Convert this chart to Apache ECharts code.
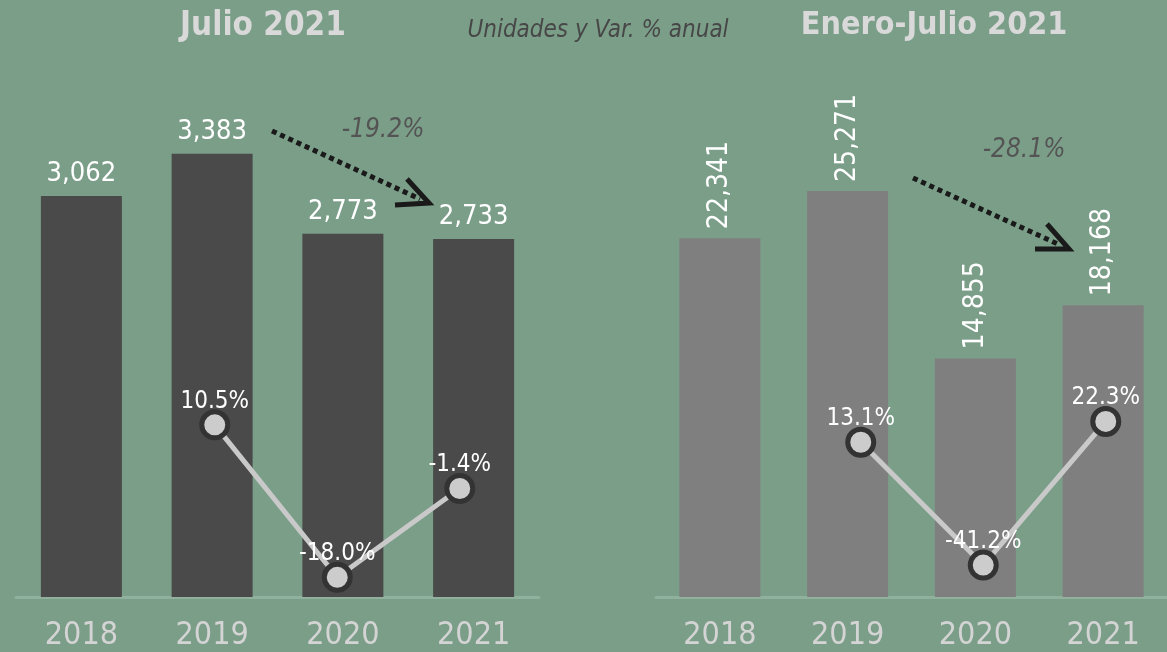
<!DOCTYPE html>
<html>
<head>
<meta charset="utf-8">
<script src="https://cdn.jsdelivr.net/npm/echarts@6/dist/echarts.min.js"></script>
<style>
  html, body { margin: 0; padding: 0; background: #7b9e89; }
  #main { width: 1167px; height: 652px; }
</style>
</head>
<body>
<div id="main"></div>
<script>
var years = ['2018', '2019', '2020', '2021'];
var julioUnits = [3062, 3383, 2773, 2733];
var julioVar = [null, 10.5, -18.0, -1.4];
var eneroJulioUnits = [22341, 25271, 14855, 18168];
var eneroJulioVar = [null, 13.1, -41.2, 22.3];

var FONT = "'Liberation Sans Narrow', 'DejaVu Sans Condensed', sans-serif";
var BG = '#7b9e89';

function fmt(v) { return v.toLocaleString('en-US'); }

var myChart = echarts.init(document.getElementById('main'));

function catAxis(grid, show) {
    return {
        type: 'category', gridIndex: grid, data: years,
        show: show,
        axisLine: { show: true, lineStyle: { color: '#8fb19d', width: 3 } },
        axisTick: { show: false },
        axisLabel: { color: '#d4d4d4', fontSize: 32, fontFamily: FONT, margin: 23 }
    };
}
function valAxis(grid, min, max) {
    return { type: 'value', gridIndex: grid, min: min, max: max, show: false, splitLine: { show: false } };
}
function lineSeries(xi, data) {
    return {
        type: 'line', xAxisIndex: xi, yAxisIndex: xi, data: data,
        symbol: 'circle', symbolSize: 26, z: 5,
        lineStyle: { color: '#c9c9c9', width: 5 },
        itemStyle: { color: '#cccccc', borderColor: '#333333', borderWidth: 5 },
        label: {
            show: true, position: 'top', distance: -4, color: '#ffffff',
            fontSize: 24, fontFamily: FONT,
            formatter: function (p) { return p.value.toFixed(1) + '%'; }
        }
    };
}

var option = {
    backgroundColor: BG,
    animation: false,
    title: [
        { text: 'Julio 2021', left: 258, top: 5, textAlign: 'center',
          textStyle: { color: '#d9d9d9', fontSize: 33, fontWeight: 'bold', fontFamily: FONT } },
        { text: 'Unidades y Var. % anual', left: 593, top: 14, textAlign: 'center',
          textStyle: { color: '#474747', fontSize: 24, fontStyle: 'italic', fontWeight: 'normal', fontFamily: FONT } },
        { text: 'Enero-Julio 2021', left: 929, top: 5, textAlign: 'center',
          textStyle: { color: '#d9d9d9', fontSize: 32, fontWeight: 'bold', fontFamily: FONT } }
    ],
    grid: [
        { left: 16, width: 523, top: 73, bottom: 55 },
        { left: 31, width: 490, top: 374, bottom: 64 },
        { left: 656, width: 523, top: 83, bottom: 55 },
        { left: 677, width: 502, top: 404, bottom: 67 }
    ],
    xAxis: [catAxis(0, true), catAxis(1, false), catAxis(2, true), catAxis(3, false)],
    yAxis: [valAxis(0, 0, 4000), valAxis(1, -20, 20), valAxis(2, 0, 32000), valAxis(3, -50, 30)],
    series: [
        {
            type: 'bar', xAxisIndex: 0, yAxisIndex: 0, data: julioUnits, barWidth: 81,
            itemStyle: { color: '#4a4a4a' },
            label: { show: true, position: 'top', distance: 8, color: '#ffffff', fontSize: 27, fontFamily: FONT,
                     formatter: function (p) { return fmt(p.value); } }
        },
        lineSeries(1, julioVar),
        {
            type: 'bar', xAxisIndex: 2, yAxisIndex: 2, data: eneroJulioUnits, barWidth: 81,
            itemStyle: { color: '#7f7f7f' },
            label: { show: true, position: 'top', distance: 9, rotate: 90, align: 'left', verticalAlign: 'middle',
                     color: '#ffffff', fontSize: 28, fontFamily: FONT,
                     formatter: function (p) { return fmt(p.value); } }
        },
        lineSeries(3, eneroJulioVar)
    ],
    graphic: [
        { type: 'text', x: 383, y: 130, style: { text: '-19.2%', fill: '#545454', font: 'italic 26px ' + FONT, align: 'center', verticalAlign: 'middle' } },
        { type: 'text', x: 1024, y: 150, style: { text: '-28.1%', fill: '#545454', font: 'italic 26px ' + FONT, align: 'center', verticalAlign: 'middle' } },
        { type: 'line', shape: { x1: 272, y1: 131, x2: 420, y2: 199 }, style: { stroke: '#1a1a1a', lineWidth: 5, lineDash: [5, 4] } },
        { type: 'polyline', shape: { points: [[407, 179], [429, 203], [395, 205]] }, style: { stroke: '#1a1a1a', lineWidth: 5, fill: null } },
        { type: 'line', shape: { x1: 913, y1: 178, x2: 1060, y2: 245 }, style: { stroke: '#1a1a1a', lineWidth: 5, lineDash: [5, 4] } },
        { type: 'polyline', shape: { points: [[1047, 224], [1069, 249], [1035, 249]] }, style: { stroke: '#1a1a1a', lineWidth: 5, fill: null } }
    ]
};

myChart.setOption(option);
</script>
</body>
</html>
